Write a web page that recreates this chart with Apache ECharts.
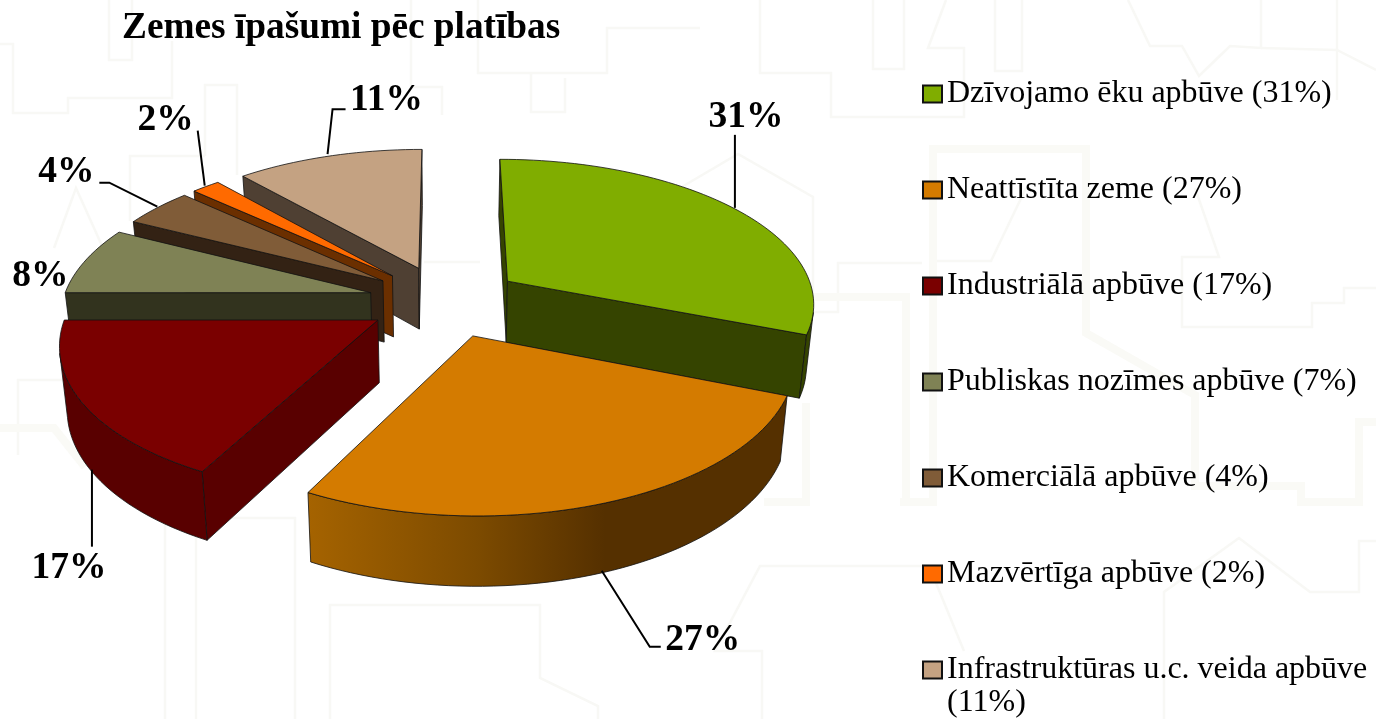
<!DOCTYPE html>
<html><head><meta charset="utf-8">
<style>html,body{margin:0;padding:0;background:#fff}#c{width:1376px;height:719px}</style>
<script src="https://cdn.jsdelivr.net/npm/echarts@6/dist/echarts.min.js"></script>
</head><body><div id="c"></div>
<script>
// ---- data (clockwise from 12 o'clock) ----
const categories = ['Dzīvojamo ēku apbūve','Neattīstīta zeme','Industriālā apbūve','Publiskas nozīmes apbūve','Komerciālā apbūve','Mazvērtīga apbūve','Infrastruktūras u.c. veida apbūve'];
const sliceValues = [31,26.65,17.35,7.5,4.3,1.75,11.45];
const legendPercents = [31,27,17,7,4,2,11];
const titleText = 'Zemes īpašumi pēc platības';

// ---- style ----
const topColors  = ['#80AD00','#D47B00','#7A0000','#7F8255','#805C38','#FF6A00','#C4A282'];
const sideColors = ['#354400','#553000','#590000','#32331E','#332214','#6B2F00','#4F4033'];
const wallStops  = {
  1:[[0,'#A56300'],[0.35,'#7D4B00'],[0.62,'#553000'],[1,'#553000']]
};
const paintOrder = [6,5,4,3,0,2,1];   // far slices first
const legendFont = '"Liberation Serif","Times New Roman",serif';

// faint watermark of building outlines behind the chart
const backdropThin = [
  [[760,0],[760,73],[831,73],[831,117],[964,117],[964,48],[928,48],[946,0]],
  [[873,0],[873,69],[904,69],[904,0]],
  [[995,0],[995,71],[1022,71],[1022,0]],
  [[1128,0],[1150,46],[1182,46],[1199,76],[1230,46],[1261,48],[1261,0]],
  [[1261,48],[1337,50],[1376,70]],
  [[1337,0],[1337,100]],
  [[680,188],[738,154],[813,197],[813,312],[838,312],[838,263],[922,263]],
  [[1195,188],[1219,257],[1182,257],[1182,327],[1312,327],[1312,303],[1344,303],[1344,288],[1376,288]],
  [[1026,188],[991,261],[933,261]],
  [[762,719],[762,651],[715,651],[760,566],[929,566],[964,651]],
  [[1164,719],[1164,592],[1239,538],[1310,592],[1359,592],[1359,541],[1376,541]],
  [[0,44],[13,44],[13,113],[68,113],[68,98],[172,98],[172,41]],
  [[109,0],[109,60],[132,60],[132,0]],
  [[205,156],[205,85],[237,85],[237,175]],
  [[130,221],[130,156],[205,156]],
  [[54,248],[76,188],[103,248]],
  [[478,0],[478,73],[607,73],[607,28],[700,28]],
  [[411,0],[411,87],[442,87],[442,115]],
  [[531,73],[531,112],[565,112],[565,78]],
  [[424,262],[480,262]],
  [[18,455],[18,380],[89,380]],
  [[165,719],[165,518],[295,518],[295,719]],
  [[196,518],[196,719]],
  [[330,719],[330,605],[540,605],[540,678],[598,706],[598,719]]
];
const backdropThick = [
  [[900,502],[933,502],[933,149],[1086,149],[1086,333],[1195,395],[1195,486],[1301,486],[1301,502],[1359,502],[1359,422],[1376,422]],
  [[813,297],[906,297],[906,502],[933,502]],
  [[806,403],[806,502],[764,502]],
  [[0,428],[54,428],[85,467]]
];

// ---- projection of the exploded 3D pie ----
const CX=445, HORIZON=-728, H=1029, RX=308, PERSP=0.14, DEPTH=62, DEPTH_PERSP=40, SHRINK=0.98, EXPLODE=0.25;
function project(X,Y){const w=1+PERSP*Y;return [CX+RX*X/w, HORIZON+H/w, DEPTH+(1/w-1)*DEPTH_PERSP];}
function topPt(X,Y){const p=project(X,Y);return [p[0],p[1]];}
function botPt(X,Y){const p=project(X,Y);return [CX+(p[0]-CX)*SHRINK,p[1]+p[2]];}
const total = sliceValues.reduce((a,b)=>a+b,0);
const cum = []; sliceValues.reduce((a,v,i)=>(cum[i]=a,a+v),0);
function shoelace(q){let s=0;for(let i=0;i<q.length;i++){const a=q[i],b=q[(i+1)%q.length];s+=a[0]*b[1]-b[0]*a[1];}return s;}

// label layout relative to the arc midpoint of each slice
const leaderPaths = [
  [[0,-1],[0,-74]],
  [[-4,-2],[44,74],[55,74]],
  [[9,0],[9,77]],
  [],
  [[0,-1],[-48,-25],[-58,-25]],
  [[-1,-1],[-8,-56]],
  [[-1,-2],[4,-47],[17,-47]]
];
const labelOffsets = [[11,-92],[97,68],[-14,99],[-45,16],[-91,-35],[-40,-66],[58,-56]];
const anchorOnBottom = [false,true,true,false,false,false,false];

function sliceItem(i){
  return function(params,api){
    const value=api.value(0);
    const t0=cum[i]/total*2*Math.PI, t1=t0+value/total*2*Math.PI, tm=(t0+t1)/2;
    const ex=EXPLODE*Math.sin(tm), ey=EXPLODE*Math.cos(tm);
    const pos=t=>[ex+Math.sin(t),ey+Math.cos(t)];
    const n=Math.max(4,Math.ceil(value*2));
    const arc=[];for(let k=0;k<=n;k++)arc.push(pos(t0+(t1-t0)*k/n));
    const apex=[ex,ey];
    const stroke={stroke:'#111',lineWidth:0.8,lineJoin:'round'};
    const children=[];
    const quad=(a,b)=>[topPt(a[0],a[1]),topPt(b[0],b[1]),botPt(b[0],b[1]),botPt(a[0],a[1])];
    [[apex,arc[0]],[arc[n],apex]].forEach(e=>{
      const q=quad(e[0],e[1]);
      if(shoelace(q)<0)children.push({type:'polygon',shape:{points:q},style:Object.assign({fill:sideColors[i]},stroke)});
    });
    // visible stretch of the curved wall
    let run=[];
    const flush=()=>{
      if(run.length>1){
        const tops=run.map(p=>topPt(p[0],p[1])),bots=run.map(p=>botPt(p[0],p[1])).reverse();
        const pts=tops.concat(bots);
        let fill=sideColors[i];
        if(wallStops[i]){
          const xs=pts.map(p=>p[0]);
          fill=new echarts.graphic.LinearGradient(Math.min(...xs),0,Math.max(...xs),0,wallStops[i].map(s=>({offset:s[0],color:s[1]})),true);
        }
        children.push({type:'polygon',shape:{points:pts},style:Object.assign({fill},stroke)});
      }
      run=[];
    };
    for(let k=0;k<n;k++){
      if(shoelace(quad(arc[k],arc[k+1]))<0){ if(!run.length)run.push(arc[k]); run.push(arc[k+1]); }
      else flush();
    }
    flush();
    const top=[topPt(apex[0],apex[1])].concat(arc.map(p=>topPt(p[0],p[1])));
    children.push({type:'polygon',shape:{points:top},style:Object.assign({fill:topColors[i]},stroke)});
    // leader and label
    const m=pos(tm);
    const anchor=anchorOnBottom[i]?[topPt(m[0],m[1])[0],botPt(m[0],m[1])[1]]:topPt(m[0],m[1]);
    if(leaderPaths[i].length){
      children.push({type:'polyline',shape:{points:leaderPaths[i].map(o=>[anchor[0]+o[0],anchor[1]+o[1]])},style:{stroke:'#000',lineWidth:2,fill:null}});
    }
    children.push({type:'text',style:{text:Math.round(value)+'%',x:anchor[0]+labelOffsets[i][0],y:anchor[1]+labelOffsets[i][1],
      align:'center',verticalAlign:'middle',fill:'#000',font:'bold 37.5px '+legendFont}});
    return {type:'group',children};
  };
}

const legendNames = categories.map((c,i)=>c+' ('+legendPercents[i]+'%)');
const wrappedIndex = 6;   // this legend entry wraps its percentage onto a second line
const wrappedRest = '('+legendPercents[wrappedIndex]+'%)';
const backdropEls = (lines,width,color)=>lines.map(pts=>({type:'polyline',silent:true,z:-10,shape:{points:pts},
  style:{stroke:color,lineWidth:width,fill:null}}));
const chart = echarts.init(document.getElementById('c'),null,{renderer:'canvas'});
chart.setOption({
  animation:false,
  backgroundColor:'#fff',
  graphic:{elements:backdropEls(backdropThin,2.5,'#F8F8F5').concat(backdropEls(backdropThick,8,'#FAFAF6')).concat([
    {type:'text',silent:true,z:5,style:{text:wrappedRest,x:947,y:703,align:'left',verticalAlign:'middle',fill:'#000',font:'32px '+legendFont}}
  ])},
  title:{text:titleText,left:117,top:5,textStyle:{fontFamily:legendFont,fontWeight:'bold',fontSize:37.3,color:'#000'}},
  legend:{
    data:legendNames, orient:'vertical', left:917, top:73, height:1000, selectedMode:false,
    itemWidth:19,itemHeight:17,itemGap:64,icon:'rect',
    itemStyle:{borderColor:'#111',borderWidth:2},
    textStyle:{fontFamily:legendFont,fontSize:32,lineHeight:32,color:'#000'},
    formatter:n=>n===legendNames[wrappedIndex]?categories[wrappedIndex]:n
  },
  series:paintOrder.map(i=>({
    type:'custom',name:legendNames[i],coordinateSystem:'none',silent:true,
    itemStyle:{color:topColors[i]},
    data:[[sliceValues[i]]],
    renderItem:sliceItem(i)
  }))
});
</script></body></html>
